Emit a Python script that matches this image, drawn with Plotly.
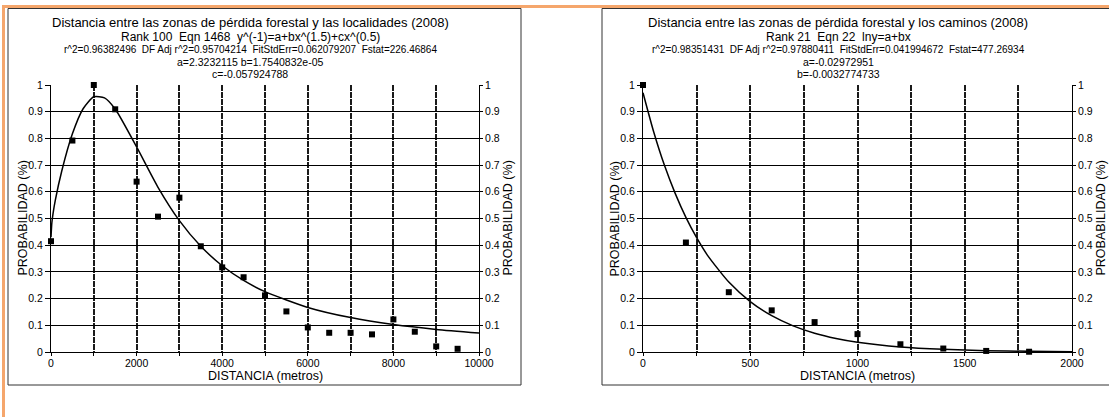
import plotly.graph_objects as go

W, H = 1109, 417

# ---------------- data ----------------
loc_x = [0, 500, 1000, 1500, 2000, 2500, 3000, 3500, 4000, 4500,
         5000, 5500, 6000, 6500, 7000, 7500, 8000, 8500, 9000, 9500]
loc_y = [0.415, 0.792, 1.0, 0.909, 0.638, 0.507, 0.578, 0.396, 0.317, 0.280,
         0.212, 0.152, 0.092, 0.072, 0.072, 0.066, 0.122, 0.076, 0.021, 0.012]

loc_fit_x = [0, 20, 50, 100, 250, 500, 750, 1000, 1250, 1500, 2000, 2500, 3000,
             3500, 4000, 4500, 5000, 6000, 7000, 8000, 9000, 10000]
loc_fit_y = [0.430, 0.484, 0.521, 0.568, 0.677, 0.817, 0.911, 0.956, 0.952, 0.910,
             0.768, 0.617, 0.492, 0.396, 0.323, 0.268, 0.226, 0.167, 0.129, 0.103,
             0.0847, 0.0711]

cam_x = [0, 200, 400, 600, 800, 1000, 1200, 1400, 1600, 1800]
cam_y = [1.0, 0.41, 0.224, 0.156, 0.112, 0.067, 0.029, 0.013, 0.004, 0.001]

cam_fit_x = [0, 50, 100, 150, 200, 250, 300, 400, 500, 600, 700, 800, 900,
             1000, 1200, 1400, 1600, 1800, 2000]
cam_fit_y = [0.971, 0.824, 0.699, 0.594, 0.504, 0.428, 0.363, 0.262, 0.189, 0.136,
             0.0979, 0.0705, 0.0508, 0.0366, 0.0190, 0.00987, 0.00513, 0.00266, 0.00138]

left_header = [
    "Distancia entre las zonas de pérdida forestal y las localidades (2008)",
    "Rank 100  Eqn 1468  y^(-1)=a+bx^(1.5)+cx^(0.5)",
    "r^2=0.96382496  DF Adj r^2=0.95704214  FitStdErr=0.062079207  Fstat=226.46864",
    "a=2.3232115 b=1.7540832e-05",
    "c=-0.057924788",
]
right_header = [
    "Distancia entre las zonas de pérdida forestal y los caminos (2008)",
    "Rank 21  Eqn 22  lny=a+bx",
    "r^2=0.98351431  DF Adj r^2=0.97880411  FitStdErr=0.041994672  Fstat=477.26934",
    "a=-0.02972951",
    "b=-0.0032774733",
]
y_title = "PROBABILIDAD (%)"
x_title = "DISTANCIA (metros)"

# ---------------- helpers ----------------
FONT = "Liberation Sans, Arial, sans-serif"


def px(x):
    return x / W


def py(y):
    return 1 - y / H


fig = go.Figure()

line_style = dict(color="black", width=1.5, shape="spline", smoothing=0.6)
mark_style = dict(symbol="square", size=6, color="black")

fig.add_trace(go.Scatter(x=loc_fit_x, y=loc_fit_y, mode="lines", line=line_style,
                         xaxis="x", yaxis="y", showlegend=False, cliponaxis=False))
fig.add_trace(go.Scatter(x=loc_x, y=loc_y, mode="markers", marker=mark_style,
                         xaxis="x", yaxis="y", showlegend=False, cliponaxis=False))
# same points bound to the right-hand mirror axis (invisible) so its ticks render
fig.add_trace(go.Scatter(x=loc_x, y=loc_y, mode="markers", marker=dict(mark_style, opacity=0),
                         xaxis="x", yaxis="y2", showlegend=False, hoverinfo="skip"))
fig.add_trace(go.Scatter(x=cam_fit_x, y=cam_fit_y, mode="lines", line=line_style,
                         xaxis="x2", yaxis="y3", showlegend=False, cliponaxis=False))
fig.add_trace(go.Scatter(x=cam_x, y=cam_y, mode="markers", marker=mark_style,
                         xaxis="x2", yaxis="y3", showlegend=False, cliponaxis=False))
fig.add_trace(go.Scatter(x=cam_x, y=cam_y, mode="markers", marker=dict(mark_style, opacity=0),
                         xaxis="x2", yaxis="y4", showlegend=False, hoverinfo="skip"))

ydom = [py(352), py(85)]
tickfont = dict(family=FONT, size=10.5, color="black")
xtickfont = dict(family=FONT, size=10.5, color="black")
VGRID = dict(gridcolor="#1a1a1a", gridwidth=2, griddash="6px,1px")


def xaxis_cfg(dom, rng, dtick, minor_dtick, anchor):
    return dict(domain=dom, range=rng, anchor=anchor, dtick=dtick, tick0=0,
                showgrid=True, **VGRID,
                ticks="outside", ticklen=3, tickcolor="black",
                minor=dict(dtick=minor_dtick, tick0=0, showgrid=True, **VGRID,
                           ticks="outside", ticklen=3, tickcolor="black"),
                showline=True, linecolor="black", linewidth=1, zeroline=False,
                tickformat="d", automargin=False, ticklabelstandoff=-2,
                tickfont=xtickfont, fixedrange=True)


def yaxis_cfg(anchor, side="left", overlaying=None, grid=True):
    d = dict(domain=ydom, range=[0, 1], dtick=0.1, tick0=0, anchor=anchor, side=side,
             showgrid=grid, gridcolor="black", gridwidth=1,
             ticks="outside", ticklen=5 if side == "left" else 3, tickcolor="black",
             showline=True, linecolor="black", linewidth=1, zeroline=False,
             automargin=False, tickfont=tickfont, fixedrange=True)
    if overlaying:
        d["overlaying"] = overlaying
    return d


fig.update_layout(
    width=W, height=H, margin=dict(l=0, r=0, t=0, b=0, autoexpand=False),
    paper_bgcolor="white", plot_bgcolor="white",
    font=dict(family=FONT, color="black"),
    xaxis=xaxis_cfg([px(51), px(479)], [0, 10000], 2000, 1000, "y"),
    yaxis=yaxis_cfg("x"),
    yaxis2=yaxis_cfg("x", side="right", overlaying="y", grid=False),
    xaxis2=xaxis_cfg([px(643), px(1072)], [0, 2000], 500, 250, "y3"),
    yaxis3=yaxis_cfg("x2"),
    yaxis4=yaxis_cfg("x2", side="right", overlaying="y3", grid=False),
)

shapes = [
    # orange frame
    dict(type="line", xref="paper", yref="paper", x0=px(2), x1=px(1109), y0=py(6.5), y1=py(6.5),
         line=dict(color="#F5A66C", width=3)),
    dict(type="line", xref="paper", yref="paper", x0=px(3.5), x1=px(3.5), y0=py(5), y1=py(417),
         line=dict(color="#F5A66C", width=3)),
    # chart boxes
    dict(type="rect", xref="paper", yref="paper", x0=px(8), x1=px(521), y0=py(385), y1=py(8.5),
         line=dict(color="#333", width=1), fillcolor="rgba(0,0,0,0)"),
    dict(type="rect", xref="paper", yref="paper", x0=px(602), x1=px(1115), y0=py(385), y1=py(8.5),
         line=dict(color="#333", width=1), fillcolor="rgba(0,0,0,0)"),
]
fig.update_layout(shapes=shapes)

annotations = []
header_y = [22.5, 36.5, 49.5, 62, 74]
header_size = [13, 12, 10, 10.5, 10.5]
for cx, lines in ((250, left_header), (838, right_header)):
    for t, yy, fs in zip(lines, header_y, header_size):
        annotations.append(dict(text=t, xref="paper", yref="paper", x=px(cx), y=py(yy),
                                xanchor="center", yanchor="middle", showarrow=False,
                                font=dict(family=FONT, size=fs, color="black")))

for cx in (23, 508, 615, 1101):
    annotations.append(dict(text=y_title, xref="paper", yref="paper", x=px(cx), y=py(218.5),
                            xanchor="center", yanchor="middle", textangle=-90, showarrow=False,
                            font=dict(family=FONT, size=12.5, color="black")))
for cx in (265, 857):
    annotations.append(dict(text=x_title, xref="paper", yref="paper", x=px(cx), y=py(375.5),
                            xanchor="center", yanchor="middle", showarrow=False,
                            font=dict(family=FONT, size=12.5, color="black")))
fig.update_layout(annotations=annotations)

fig.write_html(
    "out.html",
    config={"displayModeBar": False},
    post_script="document.body.style.margin='0';document.body.style.padding='0';document.body.style.overflow='hidden';",
)
